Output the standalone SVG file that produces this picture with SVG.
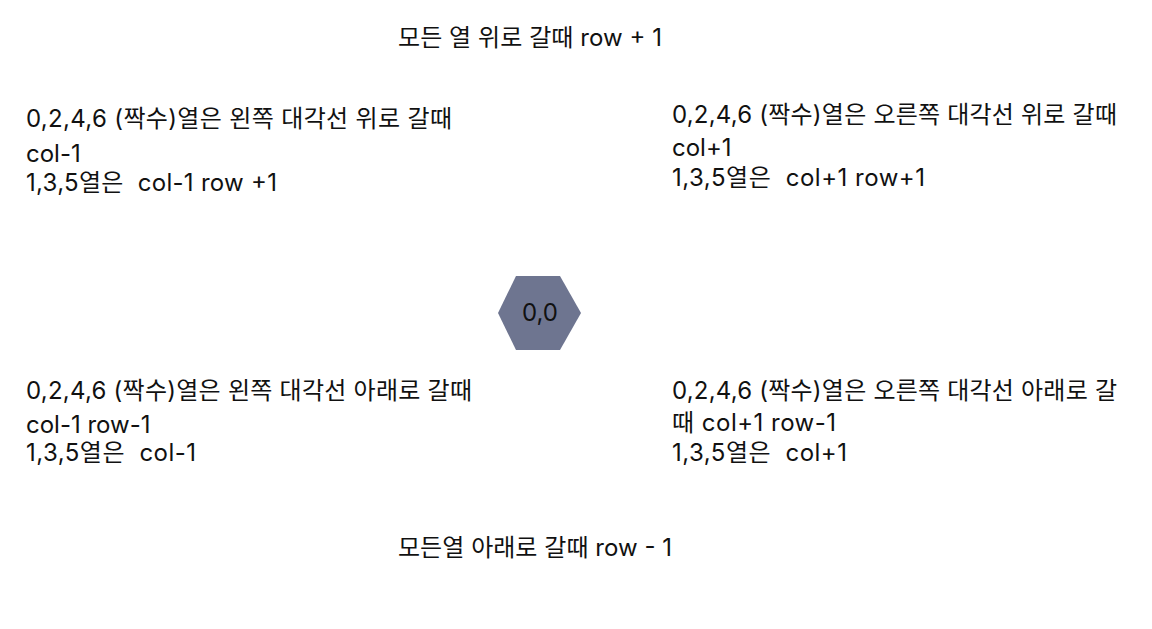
<svg xmlns="http://www.w3.org/2000/svg" width="1152" height="629" viewBox="0 0 1152 629">
<style>
text{font-family:Inter,"Noto Sans CJK KR",sans-serif;font-size:24px;fill:#111;white-space:pre}
.hex{fill:#6e7590}
</style>
<rect width="1152" height="629" fill="#fff"/>
<g id="title-up"><text x="398" y="46" textLength="264">모든 열 위로 갈때 row + 1</text></g>
<g id="up-left">
<text x="26" y="127" textLength="426">0,2,4,6 (짝수)열은 왼쪽 대각선 위로 갈때</text>
<text x="26" y="162">col-1</text>
<text x="26" y="191" xml:space="preserve" textLength="251">1,3,5열은  col-1 row +1</text>
</g>
<g id="up-right">
<text x="672" y="123" textLength="445">0,2,4,6 (짝수)열은 오른쪽 대각선 위로 갈때</text>
<text x="672" y="156">col+1</text>
<text x="672" y="186" xml:space="preserve" textLength="253">1,3,5열은  col+1 row+1</text>
</g>
<g id="center">
<polygon class="hex" points="498,313 516,276 560,276 581,313 560,350 516,350"/>
<text x="540" y="321" text-anchor="middle">0,0</text>
</g>
<g id="down-left">
<text x="26" y="399" textLength="446">0,2,4,6 (짝수)열은 왼쪽 대각선 아래로 갈때</text>
<text x="26" y="433">col-1 row-1</text>
<text x="26" y="461" xml:space="preserve" textLength="170">1,3,5열은  col-1</text>
</g>
<g id="down-right">
<text x="672" y="399" textLength="445">0,2,4,6 (짝수)열은 오른쪽 대각선 아래로 갈</text>
<text x="672" y="431" textLength="164">때 col+1 row-1</text>
<text x="672" y="461" xml:space="preserve" textLength="175">1,3,5열은  col+1</text>
</g>
<g id="title-down"><text x="398" y="556" textLength="274">모든열 아래로 갈때 row - 1</text></g>
<g id="connectors"/>
</svg>
